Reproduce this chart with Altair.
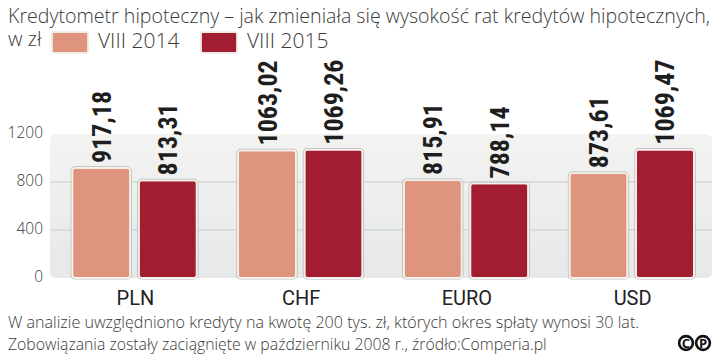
import altair as alt
import pandas as pd

categories = ["PLN", "CHF", "EURO", "USD"]
series_names = ["VIII 2014", "VIII 2015"]
values_2014 = [917.18, 1063.02, 815.91, 873.61]
values_2015 = [813.31, 1069.26, 788.14, 1069.47]
y_ticks = [0, 400, 800, 1200]
grid_values = [400, 800]
title_text = "Kredytometr hipoteczny – jak zmieniała się wysokość rat kredytów hipotecznych,"
note_1 = "W analizie uwzględniono kredyty na kwotę 200 tys. zł, których okres spłaty wynosi 30 lat."
note_2 = "Zobowiązania zostały zaciągnięte w październiku 2008 r., źródło:Comperia.pl"
colors = ["#DE947D", "#A21C32"]

rows = []
for c, a, b in zip(categories, values_2014, values_2015):
    rows.append({"cat": c, "series": series_names[0], "v": a, "label": f"{a:.2f}".replace(".", ",")})
    rows.append({"cat": c, "series": series_names[1], "v": b, "label": f"{b:.2f}".replace(".", ",")})
df = pd.DataFrame(rows)

LIGHT = "Open Sans"
y_scale = alt.Scale(domain=[0, 1200], range=[270, 126], nice=False)
x_scale = alt.Scale(domain=categories, range=[43.5, 706.5], paddingInner=0, paddingOuter=0)
off_scale = alt.Scale(domain=series_names, range=[20.5, 145.5], paddingInner=0.12, paddingOuter=0)
color_scale = alt.Scale(domain=series_names, range=colors)

x_enc = alt.X("cat:N", scale=x_scale, sort=categories, axis=None)
xoff = alt.XOffset("series:N", scale=off_scale, sort=series_names)

panel = alt.Chart(pd.DataFrame({"lo": [0], "hi": [1200]})).mark_rect(
    cornerRadius=6,
    color=alt.Gradient(gradient="linear", x1=0, y1=0, x2=0, y2=1,
                       stops=[alt.GradientStop(color="#F3F3F2", offset=0),
                              alt.GradientStop(color="#E6E8E9", offset=1)]),
).encode(
    x=alt.value(42), x2=alt.value(704),
    y=alt.Y("lo:Q", scale=y_scale, axis=None),
    y2="hi:Q",
)

grid = alt.Chart(pd.DataFrame({"g": grid_values})).mark_rule(color="#C9CDCD", strokeWidth=1).encode(
    x=alt.value(42), x2=alt.value(704),
    y=alt.Y("g:Q", scale=y_scale, axis=None),
)

tick_labels = alt.Chart(pd.DataFrame({"t": y_ticks})).mark_text(
    font=LIGHT, fontSize=15.5, fontWeight=300, color="#3A3A3A", align="right", baseline="middle", dy=-1.5,
).encode(x=alt.value(35), y=alt.Y("t:Q", scale=y_scale, axis=None), text="t:Q")

shadow = alt.Chart(df).mark_bar(
    width=58, cornerRadius=3, stroke="#8F9590", strokeWidth=3.2, strokeOpacity=0.6, fillOpacity=0,
).encode(x=x_enc, xOffset=xoff, y=alt.Y("v:Q", scale=y_scale, axis=None))

bars = alt.Chart(df).mark_bar(
    width=58, cornerRadius=3, stroke="#F6F1EA", strokeWidth=1.8,
).encode(
    x=x_enc, xOffset=xoff, y=alt.Y("v:Q", scale=y_scale, axis=None),
    color=alt.Color("series:N", scale=color_scale, sort=series_names, legend=alt.Legend(
        title="w zł", titleOrient="left", titleFont=LIGHT, titleFontSize=20, titleFontWeight=300,
        titleColor="#3A3A3A", titlePadding=9,
        orient="none", legendX=0, legendY=15, direction="horizontal", columns=2, columnPadding=17,
        symbolType="M-0.9,-0.58H0.9Q1,-0.58 1,-0.48V0.48Q1,0.58 0.9,0.58H-0.9Q-1,0.58 -1,0.48V-0.48Q-1,-0.58 -0.9,-0.58Z",
        symbolSize=1296, symbolStrokeColor="#F0E9E1",
        symbolStrokeWidth=1.8, symbolOpacity=1,
        labelFont=LIGHT, labelFontSize=21, labelFontWeight=300, labelColor="#3A3A3A", labelOffset=9,
    )),
)

value_labels = alt.Chart(df).mark_text(
    angle=270, align="left", baseline="middle", font="Roboto Condensed", fontWeight="bold",
    fontSize=26, color="#1E1E1E", dx=5, dy=1.5,
).encode(x=x_enc, xOffset=xoff, y=alt.Y("v:Q", scale=y_scale, axis=None), text="label:N")

cat_labels = alt.Chart(pd.DataFrame({"cat": categories, "base": [0] * 4})).mark_text(
    font="Roboto", fontSize=20, fontWeight=400, color="#222222", baseline="alphabetic", dy=27, dx=1,
).encode(x=x_enc, y=alt.Y("base:Q", scale=y_scale, axis=None), text="cat:N")


def note(text, x, y, size, weight=300, color="#3A3A3A", align="left", font=LIGHT):
    return alt.Chart(pd.DataFrame({"t": [text]})).mark_text(
        font=font, fontSize=size, fontWeight=weight, color=color, align=align, baseline="alphabetic",
    ).encode(x=alt.value(x), y=alt.value(y), text="t:N")


def cc_ring(x, y):
    return alt.Chart(pd.DataFrame({"t": ["o"]})).mark_point(
        shape="circle", size=190, stroke="#111111", strokeWidth=2.6, filled=False, opacity=1,
    ).encode(x=alt.value(x), y=alt.value(y))


chart = alt.layer(
    panel, grid, tick_labels, shadow, bars, value_labels, cat_labels,
    note(title_text, 0, 15, 19.6),
    note(note_1, 0, 320, 16.1),
    note(note_2, 0, 342, 15.8),
    cc_ring(678, 335), cc_ring(695, 335),
    note("C", 678, 340, 13, weight=700, color="#111111", align="center"),
    note("P", 695, 340, 13, weight=700, color="#111111", align="center"),
).properties(
    width=704, height=346, padding=0, autosize=alt.AutoSizeParams(type="none"),
).configure_view(stroke=None)

chart.save("out.html", embed_options={"renderer": "svg", "actions": False})
